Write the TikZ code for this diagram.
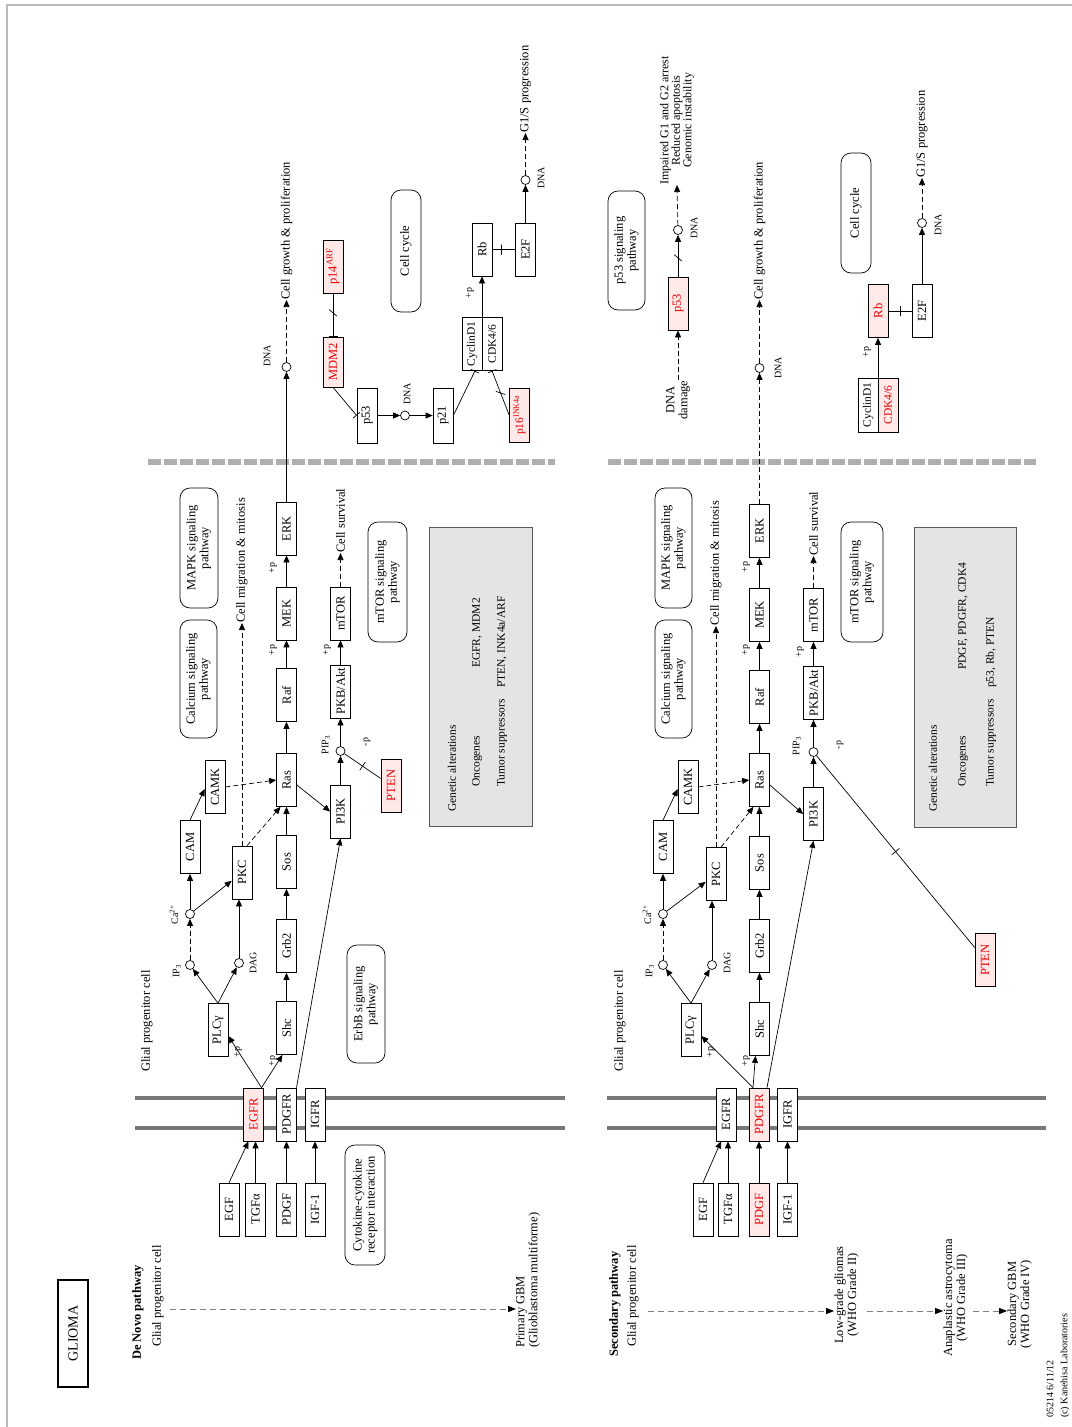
\documentclass[tikz,border=0pt]{standalone}
\usepackage{fontspec}
\setmainfont{Liberation Serif}
\usetikzlibrary{arrows.meta,calc}
\newcommand\kfont{\fontsize{12.5}{13}\selectfont}
\newcommand\ksmall{\fontsize{11.5}{12}\selectfont}
\newcommand\ktiny{\fontsize{10}{10}\selectfont}
\definecolor{kred}{RGB}{230,0,0}
\definecolor{kpink}{RGB}{255,232,232}
\definecolor{memb}{RGB}{120,120,120}
\definecolor{nmemb}{RGB}{175,175,175}
\definecolor{gabox}{RGB}{228,228,228}
\begin{document}
\begin{tikzpicture}[x=1pt,y=-1pt,
 gene/.style={draw, fill=white, rotate=90, minimum width=53pt, minimum height=20pt, inner sep=0pt, font=\kfont, line width=0.7pt},
 rgene/.style={gene, fill=kpink, text=kred},
 pw/.style={draw, rounded corners=10pt, rotate=90, align=center, inner sep=1pt, font=\kfont, line width=0.7pt},
 cpd/.style={draw, circle, minimum size=9pt, inner sep=0pt, fill=white, line width=0.7pt},
 lbl/.style={rotate=90, font=\kfont, inner sep=0pt},
 slbl/.style={rotate=90, font=\ktiny, inner sep=0pt},
 act/.style={-{Triangle[length=7pt,width=6pt]}, line width=0.7pt},
 inh/.style={-{Bar[width=9pt]}, line width=0.7pt},
 kline/.style={line width=0.7pt},
 dsh/.style={dash pattern=on 5pt off 3pt},
 ktick/.style={sloped, draw, minimum width=0pt, minimum height=10pt, inner sep=0pt, line width=0.7pt},
 kslash/.style={sloped, draw, minimum width=0pt, minimum height=10pt, inner sep=0pt, line width=0.7pt, rotate=-40},
 gact/.style={draw=gray, line width=1pt, dash pattern=on 6pt off 4pt, -{Triangle[length=8pt,width=6pt,color=black]}},
 gbox/.style={draw=gray!70!black, fill=gabox, rotate=90, line width=1pt, inner sep=0pt}
]
\useasboundingbox (0,0) rectangle (1071,1427);
\draw[gray!55, line width=2pt] (7,1440) -- (7,5) -- (1080,5);

% ================= titles and progression =================
\node[draw, line width=1.8pt, rotate=90, minimum width=107pt, minimum height=30pt, font=\fontsize{14}{14}\selectfont] (title) at (73,1333.5) {GLIOMA};
\node[lbl, anchor=west, font=\kfont\bfseries] (dn) at (138,1360) {De Novo pathway};
\node[lbl, anchor=west] (gpc1) at (158,1347) {Glial progenitor cell};
\coordinate (s1) at (170,1309);
\node[lbl, anchor=north west, align=left] (pgbm) at (516,1348) {Primary GBM\\(Glioblastoma multiforme)};
\draw[gact] (s1) -- (s1 -| pgbm.north);

\node[lbl, anchor=west, font=\kfont\bfseries] (sp) at (615,1357) {Secondary pathway};
\node[lbl, anchor=west] (gpc2) at (633,1347) {Glial progenitor cell};
\coordinate (s2) at (648,1311);
\node[lbl, align=center] (lg) at (846.5,1295) {Low-grade gliomas\\(WHO Grade II)};
\node[lbl, align=center] (aa) at (955.5,1298) {Anaplastic astrocytoma\\(WHO Grade III)};
\node[lbl, align=center] (sg) at (1019.5,1304) {Secondary GBM\\(WHO Grade IV)};
\draw[gact] (s2) -- (s2 -| lg.north);
\draw[gact, shorten <=8pt] (s2 -| lg.south) -- (s2 -| aa.north);
\draw[gact, shorten <=5pt] (s2 -| aa.south) -- (s2 -| sg.north);
\node[slbl, anchor=west] (date) at (1050,1418) {05214 6/11/12};
\node[slbl, anchor=west] (copy) at (1065,1418) {(c) Kanehisa Laboratories};

% ================= membranes =================
\draw[memb, line width=4pt] (135,1098) -- (565,1098) (135,1128) -- (565,1128);
\draw[memb, line width=4pt] (607,1098) -- (1046,1098) (607,1128) -- (1046,1128);
\draw[nmemb, line width=6pt, dash pattern=on 13pt off 3pt] (148,462) -- (555,462);
\draw[nmemb, line width=6pt, dash pattern=on 13pt off 3pt] (608,462) -- (1036,462);

% ================= De Novo pathway: cytoplasm =================
\node[lbl, anchor=west] (gpcA) at (147,1072) {Glial progenitor cell};
\node[rgene] (EGFR1) at (253.5,1114.5) {EGFR};
\node[gene] (PDGFR1) at (286.5,1114.5) {PDGFR};
\node[gene] (IGFR1) at (315,1114.5) {IGFR};
\node[gene] (EGF1) at (229,1209.5) {EGF};
\node[gene] (TGF1) at (255.5,1209.5) {TGFα};
\node[gene] (PDGF1) at (286.5,1209.5) {PDGF};
\node[gene] (IGF11) at (315,1209.5) {IGF-1};
\node[pw, minimum width=120pt, minimum height=40pt] (cyto1) at (365,1205) {Cytokine-cytokine\\receptor interaction};

\node[gene] (PLCg1) at (218,1030) {PLCγ};
\node[gene] (Shc1) at (286.5,1028) {Shc};
\node[gene] (Grb21) at (286.5,946) {Grb2};
\node[gene] (Sos1) at (286.5,862) {Sos};
\node[gene] (Ras1) at (286.5,780) {Ras};
\node[gene] (Raf1) at (286.5,695) {Raf};
\node[gene] (MEK1) at (286.5,613.5) {MEK};
\node[gene] (ERK1) at (286.5,528.5) {ERK};
\node[gene] (PI3K1) at (340.5,811.5) {PI3K};
\node[cpd] (PIP31) at (340.5,751) {};
\node[gene] (PKB1) at (340.5,691.5) {PKB/Akt};
\node[gene] (mTOR1) at (340.5,613.5) {mTOR};
\node[gene] (PKC1) at (242,872.5) {PKC};
\node[gene] (CAM1) at (190,847) {CAM};
\node[gene] (CAMK1) at (215,787) {CAMK};
\node[cpd] (IP31) at (190,965) {};
\node[cpd] (DAG1) at (239,963) {};
\node[cpd] (Ca1) at (190,914) {};
\node[rgene] (PTEN1) at (391,785.5) {PTEN};

\node[slbl] (lIP31) at (177,971) {IP\textsubscript{3}};
\node[slbl] (lCa1) at (174,915) {Ca\textsuperscript{2+}};
\node[slbl] (lDAG1) at (253,963) {DAG};
\node[slbl] (lPIP31) at (326,745) {PIP\textsubscript{3}};
\node[slbl] (mp1) at (367,742) {-p};
\node[slbl] (pp1a) at (238,1052) {+p};
\node[slbl] (pp1b) at (273,1061) {+p};
\node[slbl] (pp1c) at (273,650) {+p};
\node[slbl] (pp1d) at (273,568) {+p};
\node[slbl] (pp1e) at (327,650) {+p};

\node[pw, minimum width=120pt, minimum height=38pt] (mapk1) at (199,548) {MAPK signaling\\pathway};
\node[pw, minimum width=118pt, minimum height=37pt] (calc1) at (198.5,679) {Calcium signaling\\pathway};
\node[pw, minimum width=120pt, minimum height=39pt] (mtorpw1) at (387.5,582) {mTOR signaling\\pathway};
\node[pw, minimum width=118pt, minimum height=38pt] (erbb1) at (366,1004) {ErbB signaling\\pathway};

\node[lbl, anchor=west] (cm1) at (242,623) {Cell migration \& mitosis};
\node[lbl, anchor=west] (cs1) at (340.5,553) {Cell survival};

\draw[act] (EGF1.east) -- ($(EGFR1.west)+(-5,0)$);
\draw[act] (TGF1.east) -- (TGF1.east |- EGFR1.west);
\draw[act] (PDGF1) -- (PDGFR1);
\draw[act] (IGF11) -- (IGFR1);
\draw[act] ($(EGFR1.east)+(8,0)$) -- ($(PLCg1.south)+(0,6)$);
\draw[act] ($(EGFR1.east)+(8,0)$) -- ($(Shc1.west)+(-4,0)$);
\draw[act] ($(PDGFR1.east)+(10,0)$) -- (PI3K1.west);
\draw[act] (PLCg1.east) -- (IP31);
\draw[act] (PLCg1.east) -- (DAG1);
\draw[act,dsh] (IP31) -- (Ca1);
\draw[act] (Ca1) -- (CAM1);
\draw[act] (Ca1) -- (PKC1);
\draw[act] (DAG1) -- (DAG1 |- PKC1.west);
\draw[act] (CAM1.east) -- ($(CAMK1.north)+(0,2)$);
\draw[act,dsh] (CAMK1.south) -- (Ras1.north);
\draw[act,dsh] ($(PKC1.east)+(5,0)$) -- ($(Ras1.west)+(-6,0)$);
\draw[act,dsh] (PKC1) -- (cm1.west);
\draw[act] (Shc1) -- (Grb21);
\draw[act] (Grb21) -- (Sos1);
\draw[act] (Sos1) -- (Ras1);
\draw[act] (Ras1) -- (Raf1);
\draw[act] (Raf1) -- (MEK1);
\draw[act] (MEK1) -- (ERK1);
\draw[act] ($(Ras1.south)+(0,5)$) -- (PI3K1.north);
\draw[act] (PI3K1) -- (PIP31);
\draw[act] (PIP31) -- (PKB1);
\draw[act] (PKB1) -- (mTOR1);
\draw[act,dsh] (mTOR1) -- (cs1.west);
\draw[kline] (PIP31) -- node[ktick, pos=0.5] {} (PTEN1);

\node[gbox, minimum width=299pt, minimum height=103pt] (ga1) at (480.5,676.5) {};
\node[lbl, font=\ksmall, anchor=west] (ga1a) at (452,812) {Genetic alterations};
\node[lbl, font=\ksmall, anchor=west] (ga1b) at (477,787) {Oncogenes};
\node[lbl, font=\ksmall, anchor=west] (ga1c) at (477,668) {EGFR, MDM2};
\node[lbl, font=\ksmall, anchor=west] (ga1d) at (502,787) {Tumor suppressors};
\node[lbl, font=\ksmall, anchor=west] (ga1e) at (502,688) {PTEN, INK4a/ARF};

% ================= De Novo pathway: nucleus =================
\node[cpd] (DNA1) at (286.5,367) {};
\node[slbl] (lDNA1) at (267,356) {DNA};
\node[lbl, anchor=west] (cg1) at (286.5,300) {Cell growth \& proliferation};
\draw[act] (ERK1) -- (DNA1);
\draw[act,dsh] (DNA1) -- (cg1.west);

\node[rgene, minimum width=50pt] (MDM21) at (333,362) {MDM2};
\node[rgene] (p14ARF1) at (333,266.5) {p14\textsuperscript{ARF}};
\draw[inh] (p14ARF1) -- node[kslash, pos=0.45] {} (MDM21);
\node[gene, minimum width=55pt] (p531) at (367,415.5) {p53};
\draw[inh] (MDM21.west) -- (p531.north);
\node[cpd] (DNA1b) at (405,415.5) {};
\node[slbl] (lDNA1b) at (407,394) {DNA};
\node[gene, minimum width=55pt] (p211) at (443,415.5) {p21};
\draw[act] (p531) -- (DNA1b);
\draw[act] (DNA1b) -- (p211);
\node[gene, font=\ksmall] (Cyc1) at (472,344) {CyclinD1};
\node[gene, font=\ksmall] (CDK1) at (492,344) {CDK4/6};
\node[rgene, minimum width=54pt, font=\ksmall] (p161) at (519.5,415) {p16\textsuperscript{INK4a}};
\draw[inh] (p211.south) -- ($(Cyc1.west)+(3,0)$);
\draw[inh] (p161.north) -- node[kslash, pos=0.5] {} (CDK1.west);
\node[gene] (Rb1) at (482,249.5) {Rb};
\node[gene] (E2F1) at (525.5,249.5) {E2F};
\draw[act] ($(Cyc1.east)!0.5!(CDK1.east)$) -- (Rb1.west);
\node[slbl] (pp1f) at (470,293) {+p};
\draw[kline] (Rb1) -- node[ktick, pos=0.4] {} (E2F1);
\node[cpd] (DNA1c) at (525.5,180) {};
\node[slbl] (lDNA1c) at (541,178) {DNA};
\node[lbl, anchor=west] (g1s1) at (525.5,133) {G1/S progression};
\draw[act] (E2F1) -- (DNA1c);
\draw[act,dsh] (DNA1c) -- (g1s1.west);
\node[pw, minimum width=122pt, minimum height=30pt] (cc1) at (406,251) {Cell cycle};

% ================= Secondary pathway: cytoplasm =================
\node[lbl, anchor=west] (gpcB) at (620,1072) {Glial progenitor cell};
\node[gene] (EGFR2) at (726,1114.5) {EGFR};
\node[rgene] (PDGFR2) at (759,1114.5) {PDGFR};
\node[gene] (IGFR2) at (787.5,1114.5) {IGFR};
\node[gene] (EGF2) at (703,1209.5) {EGF};
\node[gene] (TGF2) at (728,1209.5) {TGFα};
\node[rgene] (PDGF2) at (759,1209.5) {PDGF};
\node[gene] (IGF12) at (787.5,1209.5) {IGF-1};

\node[gene] (PLCg2) at (691,1030) {PLCγ};
\node[gene] (Shc2) at (759.5,1029) {Shc};
\node[gene] (Grb22) at (759.5,946) {Grb2};
\node[gene] (Sos2) at (759.5,863) {Sos};
\node[gene] (Ras2) at (759.5,780) {Ras};
\node[gene] (Raf2) at (759.5,697) {Raf};
\node[gene] (MEK2) at (759.5,615) {MEK};
\node[gene] (ERK2) at (759.5,531) {ERK};
\node[gene] (PI3K2) at (813.5,814) {PI3K};
\node[cpd] (PIP32) at (813.5,752) {};
\node[gene] (PKB2) at (813.5,693) {PKB/Akt};
\node[gene] (mTOR2) at (813.5,615) {mTOR};
\node[gene] (PKC2) at (716,874) {PKC};
\node[gene] (CAM2) at (663,847) {CAM};
\node[gene] (CAMK2) at (688,787) {CAMK};
\node[cpd] (IP32) at (663,965) {};
\node[cpd] (DAG2) at (712,965) {};
\node[cpd] (Ca2) at (663,914) {};
\node[rgene] (PTEN2) at (985,960) {PTEN};

\node[slbl] (lIP32) at (650,971) {IP\textsubscript{3}};
\node[slbl] (lCa2) at (647,915) {Ca\textsuperscript{2+}};
\node[slbl] (lDAG2) at (727,963) {DAG};
\node[slbl] (lPIP32) at (797,746) {PIP\textsubscript{3}};
\node[slbl] (mp2) at (840,745) {-p};
\node[slbl] (pp2a) at (711,1052) {+p};
\node[slbl] (pp2b) at (746,1061) {+p};
\node[slbl] (pp2c) at (746,650) {+p};
\node[slbl] (pp2d) at (746,567) {+p};
\node[slbl] (pp2e) at (800,652) {+p};

\node[pw, minimum width=120pt, minimum height=37pt] (mapk2) at (673.5,548) {MAPK signaling\\pathway};
\node[pw, minimum width=118pt, minimum height=37pt] (calc2) at (673.5,679) {Calcium signaling\\pathway};
\node[pw, minimum width=120pt, minimum height=42pt] (mtorpw2) at (862,582) {mTOR signaling\\pathway};

\node[lbl, anchor=west] (cm2) at (716,626) {Cell migration \& mitosis};
\node[lbl, anchor=west] (cs2) at (813.5,556) {Cell survival};

\draw[act] (EGF2.east) -- ($(EGFR2.west)+(-5,0)$);
\draw[act] (TGF2.east) -- (TGF2.east |- EGFR2.west);
\draw[act] (PDGF2) -- (PDGFR2);
\draw[act] (IGF12) -- (IGFR2);
\draw[act] ($(PDGFR2.east)+(-6,0)$) -- ($(PLCg2.south)+(0,6)$);
\draw[act] ($(PDGFR2.east)+(-6,0)$) -- ($(Shc2.west)+(-4,0)$);
\draw[act] ($(PDGFR2.east)+(8,0)$) -- (PI3K2.west);
\draw[act] (PLCg2.east) -- (IP32);
\draw[act] (PLCg2.east) -- (DAG2);
\draw[act,dsh] (IP32) -- (Ca2);
\draw[act] (Ca2) -- (CAM2);
\draw[act] (Ca2) -- (PKC2);
\draw[act] (DAG2) -- (DAG2 |- PKC2.west);
\draw[act] (CAM2.east) -- ($(CAMK2.north)+(0,2)$);
\draw[act,dsh] (CAMK2.south) -- (Ras2.north);
\draw[act,dsh] ($(PKC2.east)+(5,0)$) -- ($(Ras2.west)+(-6,0)$);
\draw[act,dsh] (PKC2) -- (cm2.west);
\draw[act] (Shc2) -- (Grb22);
\draw[act] (Grb22) -- (Sos2);
\draw[act] (Sos2) -- (Ras2);
\draw[act] (Ras2) -- (Raf2);
\draw[act] (Raf2) -- (MEK2);
\draw[act] (MEK2) -- (ERK2);
\draw[act] ($(Ras2.south)+(0,5)$) -- (PI3K2.north);
\draw[act] (PI3K2) -- (PIP32);
\draw[act] (PIP32) -- (PKB2);
\draw[act] (PKB2) -- (mTOR2);
\draw[act,dsh] (mTOR2) -- (cs2.west);
\draw[kline] (PIP32) -- node[ktick, pos=0.5] {} (PTEN2);

\node[gbox, minimum width=300pt, minimum height=102pt] (ga2) at (965,677) {};
\node[lbl, font=\ksmall, anchor=west] (ga2a) at (933,812) {Genetic alterations};
\node[lbl, font=\ksmall, anchor=west] (ga2b) at (963,787) {Oncogenes};
\node[lbl, font=\ksmall, anchor=west] (ga2c) at (963,670) {PDGF, PDGFR, CDK4};
\node[lbl, font=\ksmall, anchor=west] (ga2d) at (991,787) {Tumor suppressors};
\node[lbl, font=\ksmall, anchor=west] (ga2e) at (991,688) {p53, Rb, PTEN};

% ================= Secondary pathway: nucleus =================
\node[cpd] (DNA2) at (759.5,368) {};
\node[slbl] (lDNA2) at (778,368) {DNA};
\node[lbl, anchor=west] (cg2) at (759.5,300) {Cell growth \& proliferation};
\draw[act,dsh] (ERK2) -- (DNA2);
\draw[act,dsh] (DNA2) -- (cg2.west);

\node[pw, minimum width=119pt, minimum height=37pt] (p53pw2) at (626.5,250.5) {p53 signaling\\pathway};
\node[rgene] (p532) at (678,303.5) {p53};
\node[lbl, align=center] (dd2) at (678,400) {DNA\\damage};
\draw[act,dsh] (dd2) -- (p532);
\node[cpd] (DNA2b) at (678,230) {};
\node[slbl] (lDNA2b) at (694,228) {DNA};
\draw[act] (p532) -- node[kslash, pos=0.45] {} (DNA2b);
\node[lbl, align=center, anchor=west, font=\fontsize{12}{11.5}\selectfont] (imp2) at (677,185) {Impaired G1 and G2 arrest\\Reduced apoptosis\\Genomic instability};
\draw[act,dsh] (DNA2b) -- (imp2.west);

\node[pw, minimum width=120pt, minimum height=30pt] (cc2) at (856,213) {Cell cycle};
\node[rgene] (Rb2) at (878,311) {Rb};
\node[gene] (E2F2) at (922,311) {E2F};
\draw[kline] (Rb2) -- node[ktick, pos=0.5] {} (E2F2);
\node[gene, font=\ksmall, minimum width=54pt] (Cyc2) at (868,405) {CyclinD1};
\node[rgene, font=\ksmall, minimum width=54pt] (CDK2) at (888,405) {CDK4/6};
\draw[act] ($(Cyc2.east)!0.5!(CDK2.east)$) -- (Rb2.west);
\node[slbl] (pp2f) at (867,352) {+p};
\node[cpd] (DNA2c) at (922,223) {};
\node[slbl] (lDNA2c) at (938,225) {DNA};
\node[lbl, anchor=west] (g1s2) at (922,178) {G1/S progression};
\draw[act] (E2F2) -- (DNA2c);
\draw[act,dsh] (DNA2c) -- (g1s2.west);
\end{tikzpicture}
\end{document}
